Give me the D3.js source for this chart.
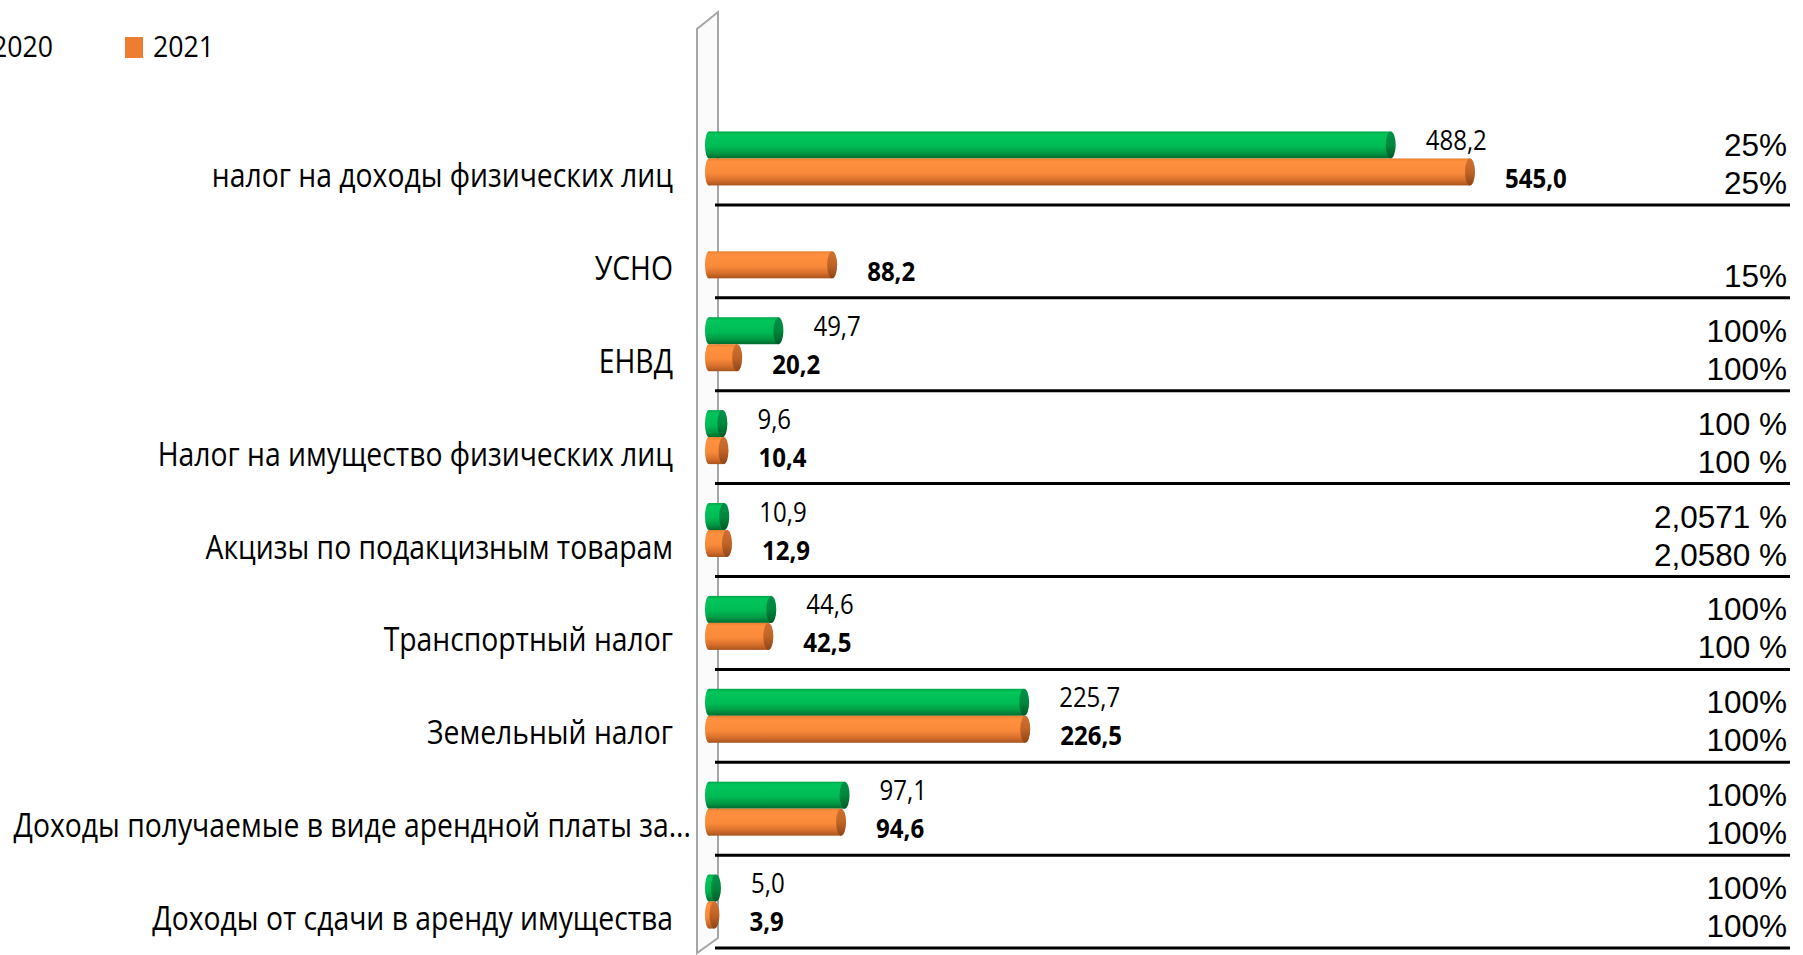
<!DOCTYPE html>
<html>
<head>
<meta charset="utf-8">
<script src="https://cdn.jsdelivr.net/npm/d3@7"></script>
<style>
  html, body { margin: 0; padding: 0; background: #fff; overflow: hidden; }
  svg { display: block; }
</style>
</head>
<body>
<svg id="chart" width="1803" height="955"></svg>
<script>
// ---- data ----
const categories = [
  "налог на доходы физических лиц",
  "УСНО",
  "ЕНВД",
  "Налог на имущество физических лиц",
  "Акцизы по подакцизным товарам",
  "Транспортный налог",
  "Земельный налог",
  "Доходы получаемые в виде арендной платы за...",
  "Доходы от сдачи в аренду имущества"
];
const seriesNames = ["2020", "2021"];
const values2020 = [488.2, null, 49.7, 9.6, 10.9, 44.6, 225.7, 97.1, 5.0];
const values2021 = [545.0, 88.2, 20.2, 10.4, 12.9, 42.5, 226.5, 94.6, 3.9];
const pct2020 = ["25%", null, "100%", "100 %", "2,0571 %", "100%", "100%", "100%", "100%"];
const pct2021 = ["25%", "15%", "100%", "100 %", "2,0580 %", "100 %", "100%", "100%", "100%"];

// ---- layout / style ----
const svg = d3.select("#chart");
const SX = 0.89;               // horizontal condensation of Calibri-like value text
const SXC = 0.858;             // condensation of category labels
const FONT = "'Open Sans', 'Noto Sans', sans-serif";
const green = "#00B050", orange = "#ED7D31";

const x = d3.scaleLinear().domain([0, 545]).range([706, 1467]);
const y = d3.scaleBand().domain(categories).range([128.5, 964.5]).padding(0);
const cy = c => y(c) + y.bandwidth() / 2;
const fmt = v => d3.format(".1f")(v).replace(".", ",");

// gradients
const defs = svg.append("defs");
function grad(id, stops) {
  const g = defs.append("linearGradient").attr("id", id)
    .attr("x1", 0).attr("y1", 0).attr("x2", 0).attr("y2", 1);
  stops.forEach(([o, c]) => g.append("stop").attr("offset", o).attr("stop-color", c));
}
grad("gGreen", [[0, "#00a84a"], [0.12, "#00c65a"], [0.55, "#00bb54"], [0.8, "#009a44"], [1, "#006a2e"]]);
grad("gOrange", [[0, "#e8802e"], [0.12, "#ff903f"], [0.55, "#f98a3a"], [0.8, "#d8702c"], [1, "#a9541e"]]);
grad("gGreenCap", [[0, "#00904a"], [0.5, "#00883c"], [1, "#005a26"]]);
grad("gOrangeCap", [[0, "#d07030"], [0.5, "#c06426"], [1, "#8e4418"]]);

// 3D side wall
const wall = svg.append("g").attr("fill", "none").attr("stroke", "#a6a6a6").attr("stroke-width", 2);
wall.append("path").attr("d", "M697,953 L697,29 L718,12 L718,938 Z").attr("fill", "#fbfbfb");

// legend (first item runs off the left edge as in the reference)
const legendX = [-36, 125];
const legend = svg.append("g");
seriesNames.forEach((s, i) => {
  legend.append("rect").attr("x", legendX[i]).attr("y", 37).attr("width", 18).attr("height", 21)
    .attr("fill", i === 0 ? green : orange);
  legend.append("text").attr("transform", `translate(${legendX[i] + 28},57) scale(${SX},1)`)
    .attr("font-family", FONT).attr("font-size", 30).attr("fill", "#000").text(s);
});

// category labels
svg.append("g").selectAll("text").data(categories).join("text")
  .attr("transform", d => `translate(${673 + (d.endsWith("...") ? 18 : 0)},${cy(d) + 12}) scale(${SXC},1)`)
  .attr("text-anchor", "end")
  .attr("font-family", FONT).attr("font-size", 33).attr("fill", "#000")
  .text(d => d);

// separator lines
svg.append("g").selectAll("line").data(categories).join("line")
  .attr("x1", 715).attr("x2", 1790)
  .attr("y1", d => cy(d) + 30).attr("y2", d => cy(d) + 30)
  .attr("stroke", "#000").attr("stroke-width", 3);

// bars (cylinders)
const BH = 27, CAP = 5;
const series = [
  { vals: values2020, off: -30, fill: "url(#gGreen)", cap: "url(#gGreenCap)", bold: false, ldy: 5 },
  { vals: values2021, off: -3, fill: "url(#gOrange)", cap: "url(#gOrangeCap)", bold: true, ldy: 16 }
];
series.forEach(s => {
  const data = categories.map((c, i) => ({ c, v: s.vals[i] })).filter(d => d.v != null);
  const g = svg.append("g");
  const bar = g.selectAll("g").data(data).join("g");
  bar.append("ellipse")
    .attr("cx", x(0) + 3).attr("cy", d => cy(d.c) + s.off)
    .attr("rx", 4).attr("ry", BH / 2).attr("fill", s.fill);
  bar.append("rect")
    .attr("x", x(0) + 3).attr("y", d => cy(d.c) + s.off - BH / 2)
    .attr("width", d => x(d.v) - x(0)).attr("height", BH)
    .attr("fill", s.fill);
  bar.append("ellipse")
    .attr("cx", d => x(d.v) + 3).attr("cy", d => cy(d.c) + s.off)
    .attr("rx", CAP).attr("ry", BH / 2).attr("fill", s.cap);
  // value labels
  g.selectAll("text").data(data).join("text")
    .attr("transform", d => `translate(${x(d.v) + 8 + 30},${cy(d.c) + s.off + s.ldy}) scale(${SX},1)`)
    .attr("font-family", FONT).attr("font-size", 27)
    .attr("font-weight", s.bold ? 700 : 400).attr("fill", "#000")
    .text(d => fmt(d.v));
});

// percent annotations (right column)
const pg = svg.append("g").attr("font-family", "'Liberation Sans', Arial, sans-serif")
  .attr("font-size", 31.5).attr("fill", "#000").attr("text-anchor", "end");
[[pct2020, -19], [pct2021, 19]].forEach(([arr, dy]) => {
  pg.selectAll(null).data(categories.map((c, i) => ({ c, t: arr[i] })).filter(d => d.t))
    .join("text")
    .attr("x", 1787).attr("y", d => cy(d.c) + dy)
    .text(d => d.t);
});
</script>
</body>
</html>
